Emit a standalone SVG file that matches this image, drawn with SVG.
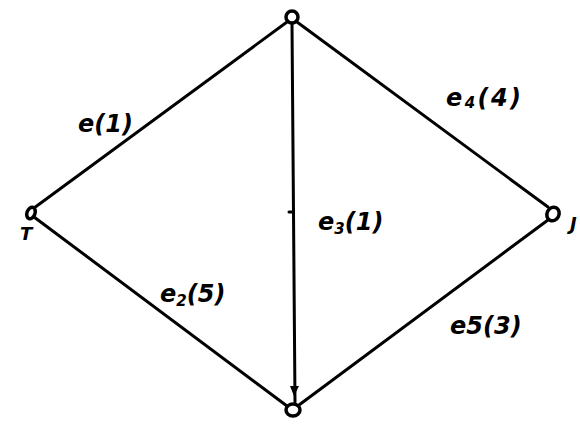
<svg xmlns="http://www.w3.org/2000/svg" width="580" height="426" viewBox="0 0 580 426">
<style>
.edge{stroke:#000;stroke-width:3;fill:none;stroke-linecap:round}
.node{stroke:#000;stroke-width:3.5;fill:#fff}
.lbl{font-family:"DejaVu Sans",sans-serif;font-style:italic;font-weight:bold;font-size:24px;fill:#000}
.sub{font-size:15px}
</style>
<rect width="580" height="426" fill="#fff"/>
<g id="connectors">
<line class="edge" x1="34" y1="208" x2="287" y2="22"/>
<line class="edge" x1="297" y1="22" x2="548" y2="207"/>
<line class="edge" x1="34" y1="217" x2="287" y2="406"/>
<line class="edge" x1="299" y1="405" x2="548" y2="220"/>
<line class="edge" x1="292" y1="24" x2="295" y2="402"/>
<line class="edge" x1="289" y1="212" x2="293" y2="212"/>
<path d="M290 386 L299 386 L294 396 Z" fill="#000"/>
</g>
<g id="node-T">
<ellipse class="node" cx="31" cy="213" rx="4" ry="6" transform="rotate(20 31 213)"/>
<text class="lbl" x="20" y="240" style="font-size:18px">T</text>
</g>
<g id="node-top">
<circle class="node" cx="292" cy="17" r="6"/>
</g>
<g id="node-J">
<ellipse class="node" cx="553" cy="214" rx="6" ry="7" transform="rotate(25 553 214)"/>
<text class="lbl" x="570" y="230" style="font-size:18px">J</text>
</g>
<g id="node-bottom">
<ellipse class="node" cx="293" cy="410" rx="7" ry="6"/>
</g>
<g id="labels">
<text class="lbl" x="78" y="132">e(1)</text>
<text class="lbl" x="446" y="106" textLength="75">e<tspan class="sub" dy="2">4</tspan><tspan dy="-2">(4)</tspan></text>
<text class="lbl" x="318" y="230">e<tspan class="sub" dy="4">3</tspan><tspan dy="-4">(1)</tspan></text>
<text class="lbl" x="160" y="302">e<tspan class="sub" dy="4">2</tspan><tspan dy="-4">(5)</tspan></text>
<text class="lbl" x="450" y="334">e5(3)</text>
</g>
</svg>
